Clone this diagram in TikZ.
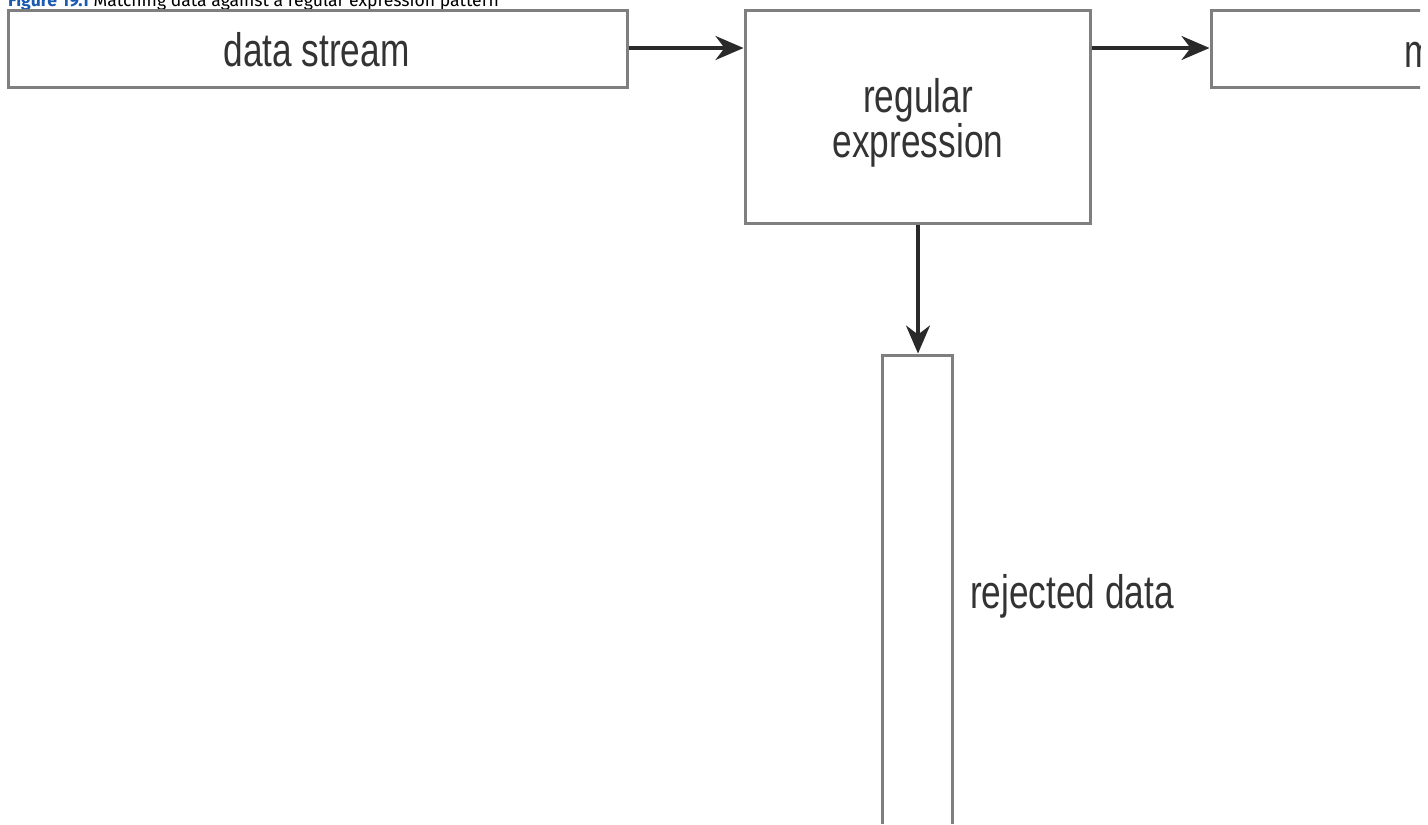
\documentclass[tikz,border=0pt]{standalone}
\usepackage{fontspec}
\setmainfont{Liberation Sans}
\newfontfamily\condfont[FakeStretch=0.75]{Liberation Sans}
\newfontfamily\capfont{Fira Sans}
\usetikzlibrary{arrows.meta}
\definecolor{boxgray}{HTML}{7F7F7F}
\definecolor{arrowdark}{HTML}{2A2A2A}
\definecolor{textdark}{HTML}{333333}
\definecolor{linkblue}{HTML}{1A5BAF}
\tikzset{
  flowbox/.style={draw=boxgray, line width=3pt, fill=white, inner sep=0pt},
  flowtext/.style={text=textdark, inner sep=0pt, font=\condfont\fontsize{47}{43}\selectfont, align=center},
  flowarrow/.style={draw=arrowdark, line width=3.2pt, -{Stealth[length=28pt, width=24pt, inset=9pt]}},
}
\begin{document}
\begin{tikzpicture}[x=1pt, y=-1pt]
\useasboundingbox (0,0) rectangle (1428,825);
\begin{scope}
\clip (0,0) rectangle (1420,823);
% caption (cut off at the top)
\node[anchor=base west, inner sep=0pt, font=\capfont\fontsize{17.6}{19}\selectfont] (cap) at (8,6.5)
  {\textcolor{linkblue}{\bfseries\underline{Figure 19.1}} Matching data against a regular expression pattern};
% boxes
\node[flowbox, minimum width=619pt, minimum height=77pt] (data) at (317.5,49) {};
\node[flowbox, minimum width=345pt, minimum height=213pt] (regex) at (917.5,117) {};
\node[flowbox, minimum width=619pt, minimum height=77pt] (match) at (1520.5,49) {};
\node[flowbox, minimum width=70pt, minimum height=600pt] (reject) at (917,655) {};
% texts
\node[flowtext] (datatext) at (316.5,49.5) {data stream};
\node[flowtext] (regextext) at (918,123) {regular\\expression};
\node[flowtext, anchor=base west] (matchtext) at (1404,67) {m};
\node[flowtext, anchor=base west] (rejecttext) at (970,608) {rejected data};
% connectors
\draw[flowarrow] (data.east |- 0,48) -- (regex.west |- 0,48);
\draw[flowarrow] (regex.east |- 0,48) -- (match.west |- 0,48);
\draw[flowarrow] (regex.south -| 918,0) -- (reject.north -| 918,0);
\end{scope}
\end{tikzpicture}
\end{document}
